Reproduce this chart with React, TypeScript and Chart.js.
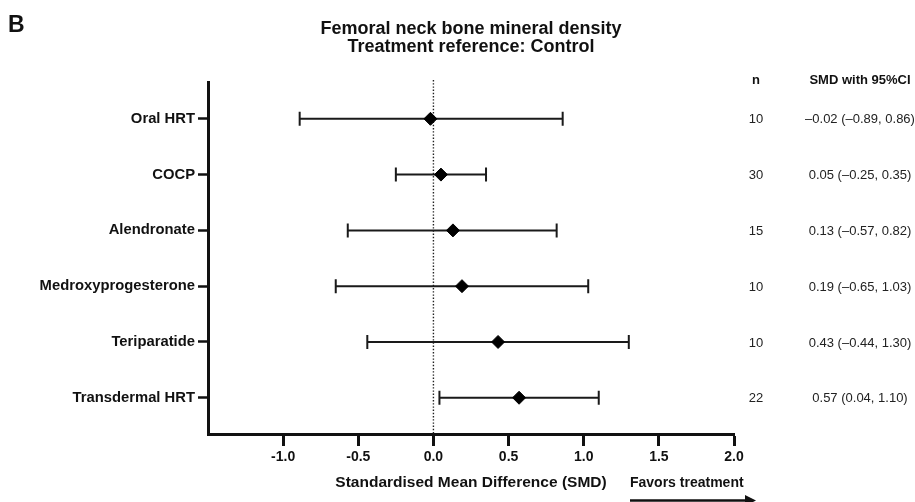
import React, { useEffect, useRef } from 'react';
import { Chart, registerables } from 'chart.js';

Chart.register(...registerables);

const treatments = ['Oral HRT', 'COCP', 'Alendronate', 'Medroxyprogesterone', 'Teriparatide', 'Transdermal HRT'];
const smd = [-0.02, 0.05, 0.13, 0.19, 0.43, 0.57];
const ciLow = [-0.89, -0.25, -0.57, -0.65, -0.44, 0.04];
const ciHigh = [0.86, 0.35, 0.82, 1.03, 1.3, 1.1];
const nValues = [10, 30, 15, 10, 10, 22];
const xTicks = [-1.0, -0.5, 0.0, 0.5, 1.0, 1.5, 2.0];

const FONT = '"Liberation Sans", Arial, Helvetica, sans-serif';
const INK = '#111';

const fmt = (v: number) => v.toFixed(2).replace('-', '\u2013');
const ciLabels = smd.map((v, i) => `${fmt(v)} (${fmt(ciLow[i])}, ${fmt(ciHigh[i])})`);

const forestPlugin = {
  id: 'forest',
  beforeDatasetsDraw(chart: any) {
    const { ctx, chartArea, scales } = chart;
    const x = scales.x;
    const y = scales.y;
    ctx.save();
    const x0 = x.getPixelForValue(0);
    ctx.strokeStyle = '#222';
    ctx.lineWidth = 1.4;
    ctx.setLineDash([1.4, 1.8]);
    ctx.beginPath();
    ctx.moveTo(x0, chartArea.top - 2);
    ctx.lineTo(x0, chartArea.bottom);
    ctx.stroke();
    ctx.setLineDash([]);
    ctx.strokeStyle = '#1a1a1a';
    ctx.lineWidth = 2;
    treatments.forEach((_, i) => {
      const py = y.getPixelForValue(i);
      const xl = x.getPixelForValue(ciLow[i]);
      const xh = x.getPixelForValue(ciHigh[i]);
      ctx.beginPath();
      ctx.moveTo(xl, py);
      ctx.lineTo(xh, py);
      ctx.moveTo(xl, py - 7);
      ctx.lineTo(xl, py + 7);
      ctx.moveTo(xh, py - 7);
      ctx.lineTo(xh, py + 7);
      ctx.stroke();
    });
    ctx.restore();
  },
  afterDraw(chart: any) {
    const { ctx, chartArea, scales } = chart;
    const y = scales.y;
    const cx = (chartArea.left + chartArea.right) / 2;
    ctx.save();
    ctx.fillStyle = INK;
    ctx.textBaseline = 'middle';
    ctx.textAlign = 'left';
    ctx.font = `bold 23px ${FONT}`;
    ctx.fillText('B', 8, 26);
    ctx.textAlign = 'center';
    ctx.font = `bold 18px ${FONT}`;
    ctx.fillText('Femoral neck bone mineral density', cx, 29);
    ctx.fillText('Treatment reference: Control', cx, 47);
    const nX = 756;
    const ciX = 860;
    ctx.font = `bold 13px ${FONT}`;
    ctx.fillText('n', nX, 80);
    ctx.fillText('SMD with 95%CI', ciX, 80);
    ctx.fillStyle = '#222';
    ctx.font = `13px ${FONT}`;
    treatments.forEach((_, i) => {
      const py = y.getPixelForValue(i);
      ctx.fillText(String(nValues[i]), nX, py + 1);
      ctx.fillText(ciLabels[i], ciX, py + 1);
    });
    ctx.fillStyle = INK;
    ctx.textAlign = 'left';
    ctx.font = `bold 14px ${FONT}`;
    ctx.fillText('Favors treatment', 630, 483);
    ctx.strokeStyle = INK;
    ctx.lineWidth = 2.5;
    ctx.beginPath();
    ctx.moveTo(630, 500.5);
    ctx.lineTo(746, 500.5);
    ctx.stroke();
    ctx.beginPath();
    ctx.moveTo(745, 495);
    ctx.lineTo(756, 500.5);
    ctx.lineTo(745, 506);
    ctx.closePath();
    ctx.fill();
    ctx.restore();
  },
};

export default function App() {
  const canvasRef = useRef<HTMLCanvasElement | null>(null);

  useEffect(() => {
    const canvas = canvasRef.current;
    if (!canvas) return;
    const chart = new Chart(canvas, {
      type: 'scatter',
      data: {
        datasets: [
          {
            data: smd.map((v, i) => ({ x: v, y: i })),
            pointStyle: 'rectRot',
            pointRadius: 6.5,
            pointHoverRadius: 6.5,
            backgroundColor: '#000',
            borderColor: '#000',
            borderWidth: 1,
          },
        ],
      },
      options: {
        animation: false,
        responsive: false,
        maintainAspectRatio: false,
        events: [],
        layout: { padding: { left: 0, right: 181, top: 82, bottom: 0 } },
        plugins: {
          legend: { display: false },
          tooltip: { enabled: false },
          title: { display: false },
        },
        scales: {
          x: {
            type: 'linear',
            min: -1.5,
            max: 2,
            afterBuildTicks: (s: any) => {
              s.ticks = xTicks.map((v) => ({ value: v }));
            },
            afterFit: (s: any) => {
              s.height = 68;
            },
            grid: {
              display: true,
              drawOnChartArea: false,
              drawTicks: true,
              tickLength: 12,
              tickWidth: 3,
              tickColor: INK,
            },
            border: { display: true, width: 3, color: INK },
            ticks: {
              autoSkip: false,
              maxRotation: 0,
              padding: 3,
              color: INK,
              font: { family: FONT, size: 14, weight: 'bold' },
              callback: (v: any) => Number(v).toFixed(1),
            },
            title: {
              display: true,
              text: 'Standardised Mean Difference (SMD)',
              color: INK,
              font: { family: FONT, size: 15.5, weight: 'bold' },
              padding: { top: 0, bottom: 10 },
            },
          },
          y: {
            type: 'linear',
            reverse: true,
            min: -0.66,
            max: 5.65,
            afterBuildTicks: (s: any) => {
              s.ticks = treatments.map((_, i) => ({ value: i }));
            },
            afterFit: (s: any) => {
              s.width = 208;
            },
            grid: {
              display: true,
              drawOnChartArea: false,
              drawTicks: true,
              tickLength: 10,
              tickWidth: 2.5,
              tickColor: INK,
            },
            border: { display: true, width: 3, color: INK },
            ticks: {
              autoSkip: false,
              padding: 3,
              color: INK,
              font: { family: FONT, size: 14.8, weight: 'bold' },
              callback: (v: any) => treatments[Math.round(Number(v))] ?? '',
            },
          },
        },
      },
      plugins: [forestPlugin],
    });
    return () => chart.destroy();
  }, []);

  return (
    <div style={{ position: 'fixed', left: 0, top: 0, width: 915, height: 502, background: '#fff' }}>
      <canvas ref={canvasRef} width={915} height={502} style={{ display: 'block' }} />
    </div>
  );
}
